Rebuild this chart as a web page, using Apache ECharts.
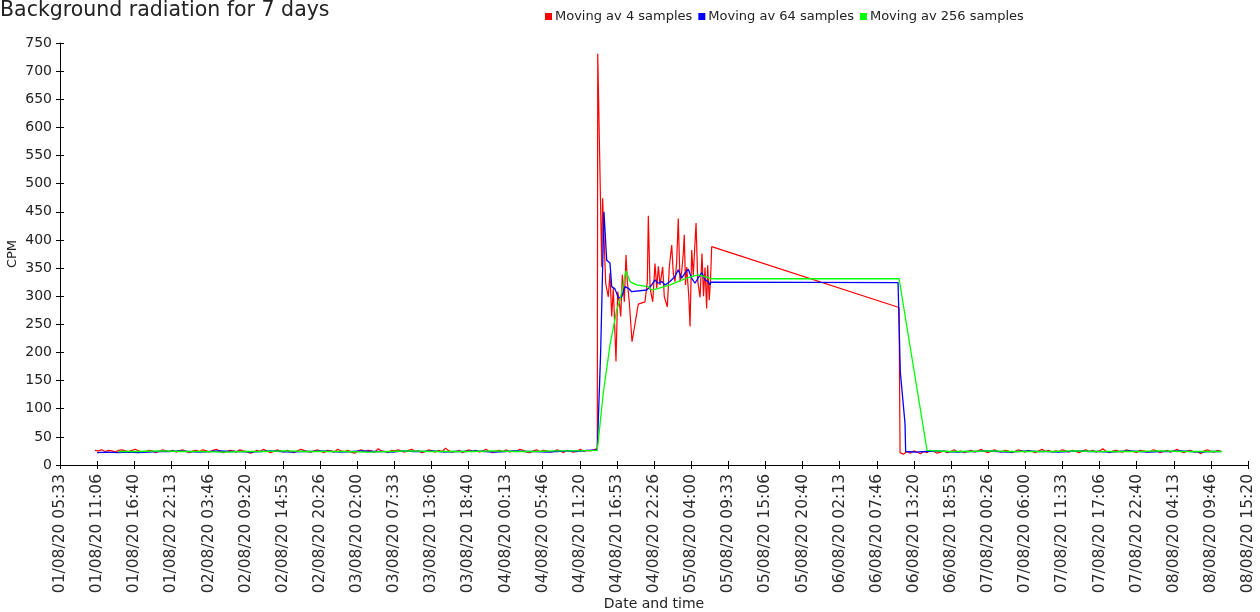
<!DOCTYPE html>
<html><head><meta charset="utf-8">
<script src="https://cdn.jsdelivr.net/npm/echarts/dist/echarts.min.js"></script>
<style>html,body{margin:0;padding:0;background:#fff}#c{width:1260px;height:612px}</style>
</head><body><div id="c"></div><script>
// ---- data (x in hours since 01/08/20 05:33, y in CPM) ----
const xTickLabels = ["01/08/20 05:33","01/08/20 11:06","01/08/20 16:40","01/08/20 22:13","02/08/20 03:46","02/08/20 09:20","02/08/20 14:53","02/08/20 20:26","03/08/20 02:00","03/08/20 07:33","03/08/20 13:06","03/08/20 18:40","04/08/20 00:13","04/08/20 05:46","04/08/20 11:20","04/08/20 16:53","04/08/20 22:26","05/08/20 04:00","05/08/20 09:33","05/08/20 15:06","05/08/20 20:40","06/08/20 02:13","06/08/20 07:46","06/08/20 13:20","06/08/20 18:53","07/08/20 00:26","07/08/20 06:00","07/08/20 11:33","07/08/20 17:06","07/08/20 22:40","08/08/20 04:13","08/08/20 09:46","08/08/20 15:20"];
const legendNames = ["Moving av 4 samples","Moving av 64 samples","Moving av 256 samples"];

// red: moving average 4 samples
const redBaseAStart = 5.24, redBaseAEnd = 80.4;
const redBaseA = [26,25,27,24,26,25,23,26,27,25,24,26,28,25,23,24,26,25,22,24,27,25,24,26,23,
25,27,24,22,25,26,24,27,25,23,26,28,25,22,24,26,25,23,27,25,24,21,23,26,24,
28,25,22,24,27,25,23,26,24,22,25,28,26,24,23,25,27,24,22,26,25,23,28,25,24,
26,23,21,25,27,24,26,25,23,29,25,24,22,26,25,27,24,23,26,28,24,25,22,24,27,
25,23,26,24,30,25,23,24,26,22,25,27,24,26,23,25,28,24,22,25,26,24,27,23,25,
24,28,26,23,22,25,27,24,26,25,23,24,27,25,22,26,24,23,25,28,24,26,25,27,29];
const redSpike = [[80.47,731],[81.07,352],[81.2,474],[81.66,323],[82.05,299],[82.3,341],[82.56,264],[82.8,314],[83.2,184],[83.46,308],[83.7,290],[83.91,264],[84.15,338],[84.45,290],[84.7,373],[84.9,326],[85.2,288],[85.6,219],[86.54,286],[87.54,290],[87.89,326],[88.04,443],[88.3,314],[88.7,290],[89.04,358],[89.3,314],[89.54,353],[89.79,320],[90.19,352],[90.43,299],[90.88,281],[91.18,352],[91.54,391],[91.78,340],[92.03,326],[92.28,360],[92.52,438],[92.78,326],[93.03,343],[93.27,376],[93.42,409],[93.6,320],[93.78,352],[94.1,299],[94.28,246],[94.53,382],[94.77,337],[95.18,430],[95.43,328],[95.78,298],[96.07,376],[96.3,300],[96.52,351],[96.77,278],[96.92,355],[97.16,293],[97.35,330],[97.52,388],[125.56,280]];
const redBaseBStart = 125.71, redBaseBEnd = 173.74;
const redBaseB = [22,19,24,21,25,23,20,24,22,26,24,21,23,25,22,24,27,23,25,22,24,26,23,25,28,
24,22,25,27,24,23,26,25,22,24,27,25,23,26,24,22,25,28,24,26,23,25,24,27,25,
23,26,24,22,25,27,24,26,23,25,29,24,22,25,26,24,23,27,25,24,22,26,25,23,24,
27,25,22,24,26,23,25,28,24,22,25,26,23,24,20,25,27,24,23,26,24];

// blue: moving average 64 samples
const blueBaseAStart = 5.54, blueBaseAEnd = 80.4;
const blueBaseA = [22,23,22,23,22,23,24,24,25,24,23,24,25,24,24,23,24,25,24,23,24,24,25,24,23,24,25,24,24,23,25,24,24,25,23,24,24,25,24,23,24,25,24,24,23,24,25,24,26,27];
const blueSpike = [[80.9,198],[81.4,450],[81.81,364],[82.3,359],[82.56,317],[83.05,313],[83.55,297],[84.06,299],[84.55,317],[85.05,314],[85.55,308],[87.8,311],[88.55,320],[89.04,329],[89.49,323],[90.04,326],[90.54,320],[91.29,326],[92.03,335],[92.52,347],[93.03,332],[93.53,341],[94.02,348],[94.53,332],[95.03,323],[95.48,332],[96.03,342],[96.52,329],[97.01,326],[97.27,320],[97.42,325],[125.41,324],[125.75,165],[126.45,74]];
const blueBaseBStart = 126.55, blueBaseBEnd = 173.74;
const blueBaseB = [24,23,24,25,24,23,24,24,25,24,23,24,25,24,24,23,24,25,24,24,23,24,25,24,23,24,24,25,24,23,24,24];

// green: moving average 256 samples
const greenBaseAStart = 8.7, greenBaseAEnd = 80.4;
const greenBaseA = [24,24,25,24,24,23,24,24,25,24,24,24,23,24,25,24,24,24,25,24,24,25,25,26];
const greenSpike = [[81.3,128],[82.3,213],[83.3,275],[83.8,293],[84.7,345],[85.3,326],[86.3,320],[88.0,317],[88.55,311],[89.3,313],[91.29,320],[93.78,332],[95.48,338],[96.77,334],[97.42,331],[125.56,331]];
const greenBaseBStart = 129.75, greenBaseBEnd = 173.9;
const greenBaseB = [26,24,24,25,24,24,24,25,24,24,24,25,24,24,24];

// ---- build ----
const SEC = 3600;
function spread(s, e, vals){ const n = vals.length; return vals.map((v,i)=>[(s+(e-s)*i/(n-1))*SEC, v]); }
function pairs(arr){ return arr.map(p=>[p[0]*SEC, p[1]]); }
const redData = spread(redBaseAStart, redBaseAEnd, redBaseA).concat(pairs(redSpike), spread(redBaseBStart, redBaseBEnd, redBaseB));
const blueData = spread(blueBaseAStart, blueBaseAEnd, blueBaseA).concat(pairs(blueSpike), spread(blueBaseBStart, blueBaseBEnd, blueBaseB));
const greenData = spread(greenBaseAStart, greenBaseAEnd, greenBaseA).concat(pairs(greenSpike), spread(greenBaseBStart, greenBaseBEnd, greenBaseB));

const X_INT = 20000; // seconds (5h33m20s)
const X_MAX = X_INT * (xTickLabels.length - 1);
const FONT = 'DejaVu Sans';
const TXT = '#222';

const chart = echarts.init(document.getElementById('c'), null, {renderer:'canvas'});
chart.setOption({
  animation: false,
  backgroundColor: '#fff',
  title: { text: 'Background radiation for 7 days', left: 0, top: 0, padding: 0,
    textStyle: { fontFamily: FONT, fontSize: 20.5, fontWeight: 'normal', color: TXT } },
  legend: { left: 545, top: 10, padding: 0, itemWidth: 7, itemHeight: 7, itemGap: 6, icon: 'rect',
    textStyle: { fontFamily: FONT, fontSize: 13, color: TXT, padding: [0,0,0,-2] },
    data: legendNames },
  grid: { left: 60, right: 12, top: 43, bottom: 147, containLabel: false, outerBoundsMode: 'none' },
  xAxis: [{
    type: 'value', min: 0, max: X_MAX, interval: X_INT,
    axisLine: { lineStyle: { color: '#000', width: 1 } },
    axisTick: { length: 4, lineStyle: { color: '#000' } },
    splitLine: { show: false },
    axisLabel: { rotate: 90, margin: 9, fontFamily: FONT, fontSize: 15.5, color: '#2a2a2a',
      formatter: v => xTickLabels[Math.round(v / X_INT)] },
    name: 'Date and time', nameLocation: 'middle', nameGap: 132, nameMoveOverlap: false,
    nameTextStyle: { fontFamily: FONT, fontSize: 14, color: TXT }
  },{
    type: 'value', min: 0, max: X_MAX, interval: X_INT, position: 'bottom',
    axisLine: { show: false }, axisLabel: { show: false }, splitLine: { show: false },
    axisTick: { inside: true, length: 4, lineStyle: { color: '#000' } }
  }],
  yAxis: [{
    type: 'value', min: 0, max: 750, interval: 50,
    axisLine: { show: true, lineStyle: { color: '#000', width: 1 } },
    axisTick: { show: true, length: 4, lineStyle: { color: '#000' } },
    splitLine: { show: false },
    axisLabel: { margin: 8, fontFamily: FONT, fontSize: 14, color: TXT },
    name: 'CPM', nameLocation: 'middle', nameGap: 41, nameMoveOverlap: false,
    nameTextStyle: { fontFamily: FONT, fontSize: 13, color: TXT }
  },{
    type: 'value', min: 0, max: 750, interval: 50, position: 'left',
    axisLine: { show: false }, axisLabel: { show: false }, splitLine: { show: false },
    axisTick: { show: true, inside: true, length: 4, lineStyle: { color: '#000' } }
  }],
  series: [
    { name: legendNames[0], type: 'line', data: redData, showSymbol: false, color: '#ff0000',
      lineStyle: { width: 1.2, color: '#ff0000' } },
    { name: legendNames[1], type: 'line', data: blueData, showSymbol: false, color: '#0000ff',
      lineStyle: { width: 1.3, color: '#0000ff' } },
    { name: legendNames[2], type: 'line', data: greenData, showSymbol: false, color: '#00ff00',
      lineStyle: { width: 1.3, color: '#00ff00' } }
  ]
});
</script></body></html>
